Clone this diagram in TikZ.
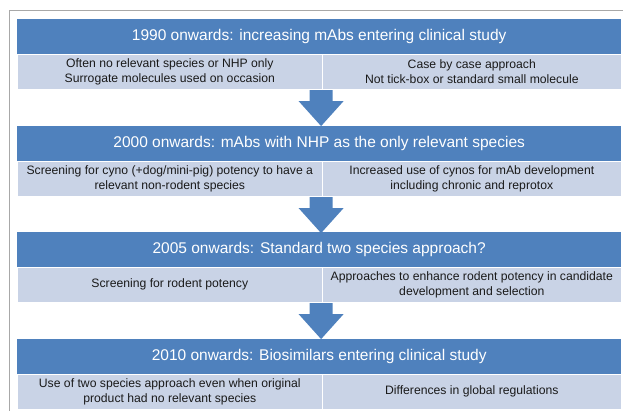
\documentclass[tikz,border=0pt]{standalone}
\usepackage{fontspec}
\setmainfont{Liberation Sans}
\usetikzlibrary{calc}
\definecolor{hdrblue}{HTML}{4F81BD}
\definecolor{rowblue}{HTML}{C9D3E6}
\definecolor{framegray}{HTML}{A8A8A8}
\definecolor{celltext}{HTML}{1A1A1A}

\begin{document}
\begin{tikzpicture}[x=1pt,y=-1pt,
  header/.style={fill=hdrblue, text=white, minimum width=604pt, minimum height=35pt,
    inner sep=0pt, anchor=north west, font=\fontsize{15.5}{17}\selectfont},
  cell/.style={fill=rowblue, draw=white, line width=0.6pt, minimum height=35pt, inner sep=0pt,
    align=center, anchor=north west, text=celltext, font=\fontsize{12.2}{14.8}\selectfont},
  leftcell/.style={cell, minimum width=305pt},
  rightcell/.style={cell, minimum width=299pt},
  arrowfill/.style={fill=hdrblue}]
\useasboundingbox (0,0) rectangle (623,411);

% outer frame, running off the right and bottom edges
\draw[framegray, line width=1pt] (9.5,420) -- (9.5,11) -- (630,11);

% 1990
\node[header] (h1) at (17,19) {1990 onwards: increasing mAbs entering clinical study};
\node[leftcell] (l1) at (17,54) {Often no relevant species or NHP only\\Surrogate molecules used on occasion};
\node[rightcell] (r1) at (322,54) {Case by case approach\\Not tick-box or standard small molecule};

% 2000
\node[header] (h2) at (17,126) {2000 onwards: mAbs with NHP as the only relevant species};
\node[leftcell] (l2) at (17,161) {Screening for cyno (+dog/mini-pig) potency to have a\\relevant non-rodent species};
\node[rightcell] (r2) at (322,161) {Increased use of cynos for mAb development\\including chronic and reprotox};

% 2005
\node[header] (h3) at (17,232) {2005 onwards: Standard two species approach?};
\node[leftcell] (l3) at (17,267) {Screening for rodent potency};
\node[rightcell] (r3) at (322,267) {Approaches to enhance rodent potency in candidate\\development and selection};

% 2010
\node[header] (h4) at (17,339) {2010 onwards: Biosimilars entering clinical study};
\node[leftcell] (l4) at (17,374) {Use of two species approach even when original\\product had no relevant species};
\node[rightcell] (r4) at (322,374) {Differences in global regulations};

% block arrows between the stages
\foreach \c in {l1,l2,l3}{
  \fill[arrowfill] (\c.south east) ++(-13,0.5) -- ++(23,0) -- ++(0,11) -- ++(11,0)
    -- ++(-22.5,25) -- ++(-22.5,-25) -- ++(11,0) -- cycle;
}
\end{tikzpicture}
\end{document}
